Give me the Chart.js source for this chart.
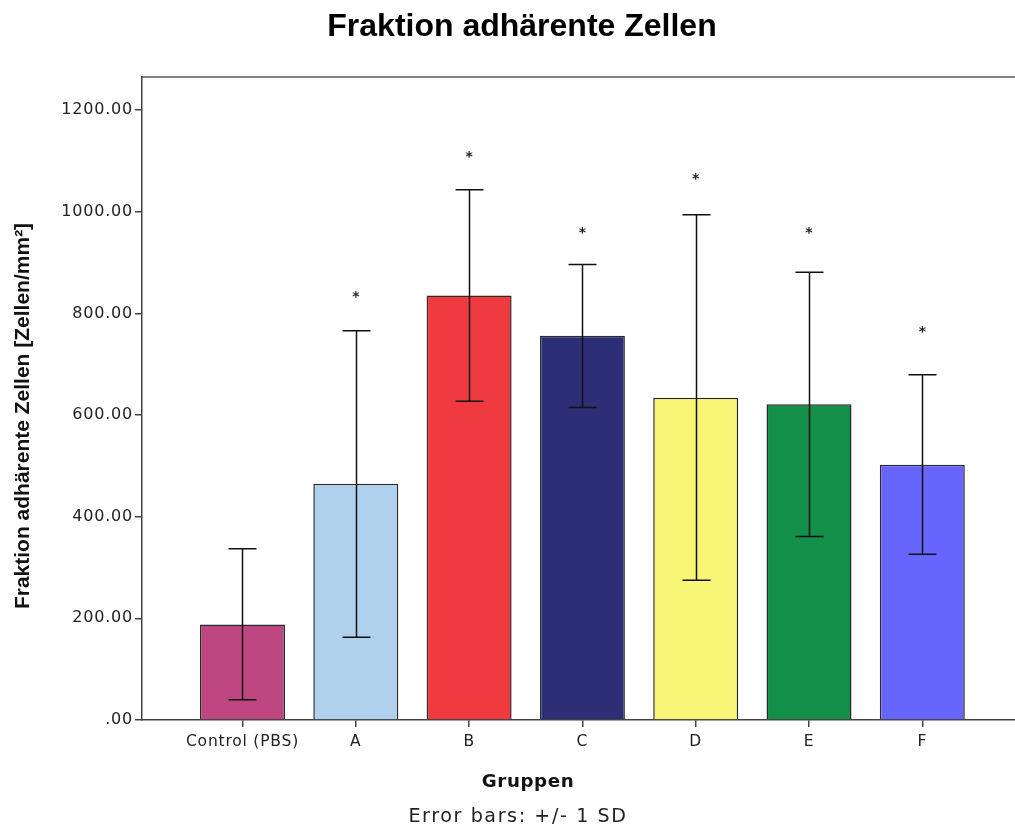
<!DOCTYPE html>
<html>
<head>
<meta charset="utf-8">
<script src="https://cdn.jsdelivr.net/npm/chart.js@4"></script>
<style>
  html, body { margin: 0; padding: 0; background: #fff; overflow: hidden; }
  #wrap { width: 1015px; height: 832px; position: relative; }
</style>
</head>
<body>
<div id="wrap"><canvas id="chart"></canvas></div>
<script>
// groups along the x axis
const groups = ['Control (PBS)', 'A', 'B', 'C', 'D', 'E', 'F'];
// mean values (Zellen/mm²)
const means = [188, 465, 835, 756, 634, 621, 502];
// mean - 1 SD / mean + 1 SD
const sdLow = [40, 163, 627, 615, 275, 361, 326];
const sdHigh = [337, 766, 1043, 896, 994, 881, 679];
// height of the significance star, null = no star
const starAt = [null, 837, 1112, 963, 1069, 963, 769];
const barColors = ['#be4681', '#afd1ee', '#ef3a3f', '#2c2f76', '#f9f576', '#138f4a', '#6666fe'];
const yTicks = [0, 200, 400, 600, 800, 1000, 1200];

const tickFont = "'DejaVu Sans', Verdana, sans-serif";
const headFont = "'Liberation Sans', Arial, sans-serif";

// draw text centred at (x, y), sized so that it is `w` pixels wide
function fitText(ctx, text, x, y, w, weight, family) {
  ctx.font = weight + ' 20px ' + family;
  const size = 20 * w / ctx.measureText(text).width;
  ctx.font = weight + ' ' + size.toFixed(1) + 'px ' + family;
  ctx.fillText(text, x, y);
}

const extras = {
  id: 'extras',
  beforeDraw(chart) {
    chart.ctx.letterSpacing = '0.8px';
  },
  afterDatasetsDraw(chart) {
    const ctx = chart.ctx, x = chart.scales.x, y = chart.scales.y, a = chart.chartArea;
    ctx.save();
    ctx.letterSpacing = '0px';
    // frame top line (the plot box runs off the right edge)
    ctx.strokeStyle = '#555';
    ctx.lineWidth = 1.5;
    ctx.beginPath();
    ctx.moveTo(a.left, a.top);
    ctx.lineTo(chart.width, a.top);
    ctx.stroke();

    // error bars
    ctx.strokeStyle = '#111';
    ctx.lineWidth = 1.5;
    groups.forEach((g, i) => {
      const cx = Math.round(x.getPixelForValue(i)) + 0.5;
      const yl = y.getPixelForValue(sdLow[i]);
      const yh = y.getPixelForValue(sdHigh[i]);
      ctx.beginPath();
      ctx.moveTo(cx, yl); ctx.lineTo(cx, yh);
      ctx.moveTo(cx - 14, yl); ctx.lineTo(cx + 14, yl);
      ctx.moveTo(cx - 14, yh); ctx.lineTo(cx + 14, yh);
      ctx.stroke();
    });

    // stars
    ctx.fillStyle = '#222';
    ctx.font = 'bold 14px ' + tickFont;
    ctx.textAlign = 'center';
    ctx.textBaseline = 'middle';
    starAt.forEach((v, i) => {
      if (v == null) return;
      ctx.fillText('*', x.getPixelForValue(i), y.getPixelForValue(v) + 3);
    });

    // titles
    ctx.fillStyle = '#000';
    fitText(ctx, 'Fraktion adhärente Zellen', 522, 27, 390, 'bold', headFont);

    ctx.fillStyle = '#111';
    ctx.letterSpacing = '0.6px';
    fitText(ctx, 'Gruppen', 528, 782, 92, 'bold', tickFont);

    ctx.fillStyle = '#222';
    ctx.letterSpacing = '1.6px';
    fitText(ctx, 'Error bars: +/- 1 SD', 518, 817, 218, 'normal', tickFont);
    ctx.letterSpacing = '0px';

    ctx.translate(23, 416);
    ctx.rotate(-Math.PI / 2);
    ctx.fillStyle = '#111';
    fitText(ctx, 'Fraktion adhärente Zellen [Zellen/mm²]', 0, 0, 386, 'bold', headFont);
    ctx.restore();
  }
};

new Chart(document.getElementById('chart'), {
  type: 'bar',
  data: {
    datasets: [{
      data: means.map((v, i) => ({ x: i, y: v })),
      backgroundColor: barColors,
      borderColor: '#2a2a2a',
      borderWidth: 1.5,
      borderSkipped: 'bottom',
      barPercentage: 0.75,
      categoryPercentage: 1
    }]
  },
  options: {
    responsive: true,
    maintainAspectRatio: false,
    animation: false,
    layout: { padding: { left: 0, top: 77, right: 0, bottom: 0 } },
    plugins: { legend: { display: false }, tooltip: { enabled: false }, title: { display: false } },
    scales: {
      x: {
        type: 'linear',
        offset: false,
        min: -0.887,
        max: 6.818,
        afterBuildTicks(s) { s.ticks = groups.map((g, i) => ({ value: i })); },
        afterFit(s) { s.height = 112; },
        ticks: {
          autoSkip: false,
          maxRotation: 0,
          padding: 6,
          color: '#222',
          font: { family: tickFont, size: 15.5 },
          callback: v => groups[v]
        },
        grid: { offset: false, drawOnChartArea: false, drawTicks: true, tickLength: 7, color: '#444', lineWidth: 1.5 },
        border: { display: true, color: '#444', width: 1.5 }
      },
      y: {
        min: 0,
        max: 1265,
        afterBuildTicks(s) { s.ticks = yTicks.map(v => ({ value: v })); },
        afterFit(s) { s.width = 142; },
        ticks: {
          padding: 2,
          color: '#222',
          font: { family: tickFont, size: 16 },
          callback: v => v === 0 ? '.00' : v.toFixed(2)
        },
        grid: { drawOnChartArea: false, drawTicks: true, tickLength: 7, color: '#444', lineWidth: 1.5 },
        border: { display: true, color: '#444', width: 1.5 }
      }
    }
  },
  plugins: [extras]
});
</script>
</body>
</html>
